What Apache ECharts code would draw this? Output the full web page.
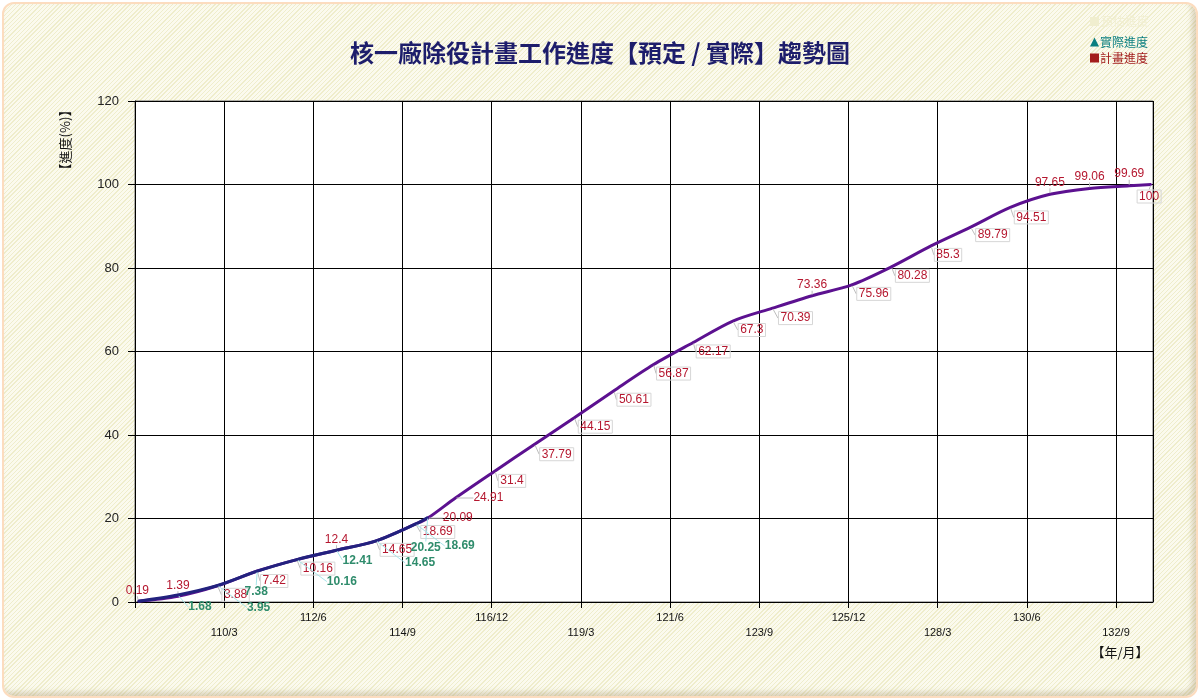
<!DOCTYPE html>
<html>
<head>
<meta charset="utf-8">
<script src="https://cdn.jsdelivr.net/npm/echarts@6/dist/echarts.min.js"></script>
<style>
  html, body { margin: 0; padding: 0; background: #fff; }
  #frame {
    position: absolute; left: 2px; top: 2px; width: 1192px; height: 692px;
    border: 2px solid #fcdcbf; border-radius: 12px;
    background: repeating-linear-gradient(135deg, #fbfaee 0px, #fbfaee 2px, #efedcc 2px, #efedcc 3px);
    box-shadow: inset -4px -4px 5px rgba(160, 140, 100, 0.35);
  }
  #main { position: absolute; left: 0; top: 0; width: 1200px; height: 700px; }
</style>
</head>
<body>
<div id="frame"></div>
<div id="main"></div>
<script>
// 預定（計畫）進度：日期(民國 年/月/日) 與 累計百分比
const planDates = [
  '108/01/01', '109/01/01', '110/01/01', '111/01/01', '112/01/01', '113/01/01',
  '114/01/01', '115/01/01', '115/04/20', '116/01/01', '117/01/01', '118/01/01',
  '119/01/01', '120/01/01', '121/01/01', '122/01/01', '123/01/01', '124/01/01',
  '125/01/01', '126/01/01', '127/01/01', '128/01/01', '129/01/01', '130/01/01',
  '131/01/01', '132/01/01', '133/01/01', '133/07/20'
];
const planValues = [
  0.19, 1.39, 3.88, 7.42, 10.16, 12.4, 14.65, 18.69, 20.09, 24.91, 31.4, 37.79,
  44.15, 50.61, 56.87, 62.17, 67.3, 70.39, 73.36, 75.96, 80.28, 85.3, 89.79, 94.51,
  97.65, 99.06, 99.69, 100
];

// 實際進度
const actualDates = [
  '108/01/01', '109/01/01', '110/01/01', '111/01/01', '112/01/01', '113/01/01',
  '114/01/01', '115/01/01', '115/04/20'
];
const actualValues = [0.19, 1.68, 3.95, 7.38, 10.16, 12.41, 14.65, 18.69, 20.25];

// 標籤相對資料點的位移 (px)，null 表示不顯示
const planLabelShift = [
  [-1, -11], [0, -11], [18, 9], [17, 10], [21, 9], [0, -11], [21, 9], [22, 8],
  [30, 0], [33, 0], [17, 10], [22, 10], [21, 9], [20, 9], [20, 9], [20, 9],
  [19, 9], [23, 10], [0, -11], [22, 9], [21, 9], [17, 9], [22, 8], [21, 10],
  [0, -12], [0, -12], [0, -12], [-2, 12]
];
const actualLabelShift = [
  null, [22, 12], [41, 22], [-1, 20], [45, 22], [21, 10], [44, 22], [44, 22], [-2, 30]
];

// X 軸：以「年*12+月」為單位，每 27 個月一個刻度
const xMin = 107 * 12 + 12;
const xMax = 133 * 12 + 8.2;
const xStep = 27;

const toMonth = d => {
  const [y, m, dd] = d.split('/').map(Number);
  return y * 12 + m + (dd - 1) / 30;
};

const FONT = '"Noto Sans CJK TC", "Liberation Sans", Arial, sans-serif';
const NUM_FONT = '"Liberation Sans", Arial, sans-serif';

const buildData = (dates, values, shifts, boxed) => dates.map((d, i) => {
  const s = shifts[i];
  const item = { value: [toMonth(d), values[i]] };
  if (!s) {
    item.label = { show: false };
  } else if (boxed && s[1] > 0) {
    item.label = { borderColor: '#d6d6d6', borderWidth: 1, padding: [1, 2, 0, 2] };
  }
  return item;
});

const chart = echarts.init(document.getElementById('main'));

chart.setOption({
  backgroundColor: 'transparent',
  animation: false,
  title: {
    text: '核一廠除役計畫工作進度【預定 / 實際】趨勢圖',
    left: 'center',
    top: 36,
    textStyle: { fontFamily: FONT, fontSize: 24, fontWeight: 'bold', color: '#1d1d6b' }
  },
  legend: {
    orient: 'vertical',
    right: 47,
    top: 31,
    itemWidth: 9,
    itemHeight: 9,
    itemGap: 4,
    textStyle: { fontFamily: FONT, fontSize: 12, padding: [0, 0, 0, -4] },
    data: [
      { name: '實際進度', icon: 'triangle', itemStyle: { color: '#0b7f80' }, textStyle: { color: '#0b7f80' } },
      { name: '計畫進度', icon: 'rect', itemStyle: { color: '#a31d1d' }, textStyle: { color: '#a31d1d' } }
    ]
  },
  graphic: [
    { type: 'rect', left: 1090, top: 17, shape: { width: 9, height: 9 }, style: { fill: '#f0eecf' } },
    { type: 'text', left: 1101, top: 15, style: { text: '預估進度', font: '12px ' + FONT, fill: '#f1efd2' } },
    {
      type: 'text', x: 65, y: 140, rotation: Math.PI / 2,
      style: { text: '【進度(%)】', font: '13px ' + FONT, fill: '#111', align: 'center', verticalAlign: 'middle' }
    },
    {
      type: 'text', x: 1120, y: 652,
      style: { text: '【年/月】', font: '13px ' + FONT, fill: '#111', align: 'center', verticalAlign: 'middle' }
    }
  ],
  grid: {
    left: 135, right: 47, top: 101, bottom: 98,
    show: true, backgroundColor: '#fff', borderColor: '#666', borderWidth: 1
  },
  xAxis: {
    type: 'value',
    min: xMin,
    max: xMax,
    interval: xStep,
    axisLine: { lineStyle: { color: '#000' } },
    axisTick: { show: true, length: 6, lineStyle: { color: '#000' } },
    splitLine: { show: true, lineStyle: { color: '#000', width: 1 } },
    axisLabel: {
      margin: 8,
      fontFamily: NUM_FONT,
      fontSize: 11,
      lineHeight: 15,
      color: '#111',
      showMaxLabel: false,
      formatter: v => {
        const k = Math.round((v - xMin) / xStep);
        if (Math.abs(v - xMin - k * xStep) > 1e-6 || k === 0) return '';
        const y = Math.floor((v - 1) / 12);
        const m = Math.round(v - y * 12);
        return (k % 2 === 1 ? '\n' : '') + y + '/' + m;
      }
    }
  },
  yAxis: {
    type: 'value',
    min: 0,
    max: 120,
    interval: 20,
    axisLine: { show: true, lineStyle: { color: '#000' } },
    axisTick: { show: true, length: 7, lineStyle: { color: '#000' } },
    splitLine: { lineStyle: { color: '#000', width: 1 } },
    axisLabel: { margin: 16, fontFamily: NUM_FONT, fontSize: 13, color: '#222' }
  },
  series: [
    {
      name: '計畫進度',
      type: 'line',
      smooth: 0.3,
      symbol: 'circle',
      symbolSize: 2,
      itemStyle: { color: '#5c1190' },
      lineStyle: { color: '#5c1190', width: 3 },
      label: {
        show: true,
        position: 'inside',
        fontFamily: NUM_FONT,
        fontSize: 12,
        color: '#b5172f'
      },
      labelLine: { show: true, lineStyle: { color: '#bdbdbd', width: 1 } },
      labelLayout: p => {
        const s = planLabelShift[p.dataIndex] || [0, 0];
        return { dx: s[0], dy: s[1] };
      },
      data: buildData(planDates, planValues, planLabelShift, true),
      z: 2
    },
    {
      name: '實際進度',
      type: 'line',
      smooth: 0.3,
      symbol: 'circle',
      symbolSize: 2,
      itemStyle: { color: '#22227e' },
      lineStyle: { color: '#22227e', width: 3 },
      label: {
        show: true,
        position: 'inside',
        fontFamily: NUM_FONT,
        fontSize: 12,
        fontWeight: 'bold',
        color: '#2f8c6c'
      },
      labelLine: { show: true, lineStyle: { color: '#a8e6ea', width: 1 } },
      labelLayout: p => {
        const s = actualLabelShift[p.dataIndex] || [0, 0];
        return { dx: s[0], dy: s[1] };
      },
      data: buildData(actualDates, actualValues, actualLabelShift, false),
      z: 3
    }
  ]
});
</script>
</body>
</html>
